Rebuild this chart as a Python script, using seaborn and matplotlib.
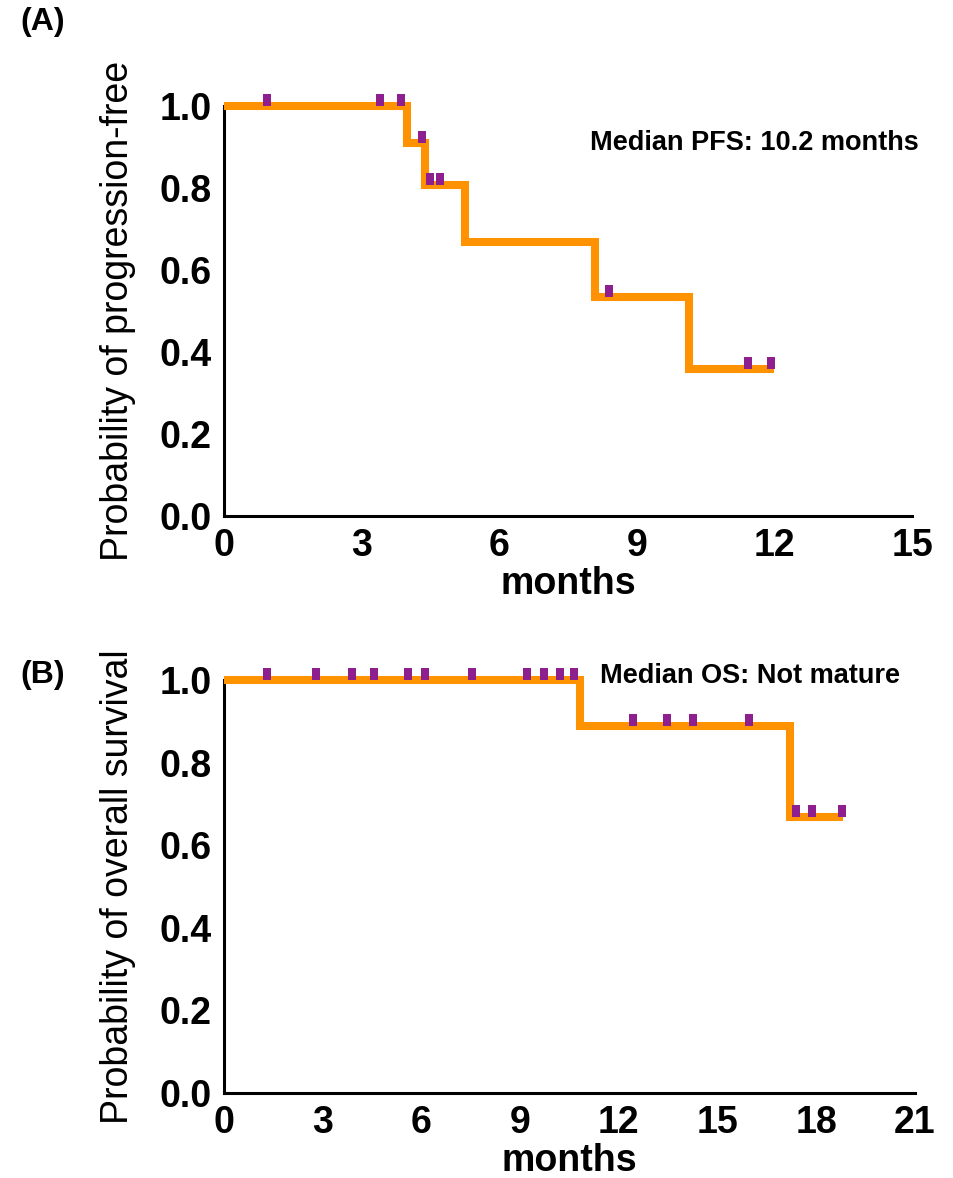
import matplotlib
matplotlib.use("Agg")
import matplotlib.pyplot as plt
import numpy as np
import pandas as pd
import seaborn as sns
from matplotlib.path import Path

# Panel A: progression-free survival (step points)
pfs_time = [0.0, 4.0, 4.38, 5.25, 8.08, 10.13, 12.0]
pfs_surv = [1.0, 0.909, 0.807, 0.669, 0.535, 0.358, 0.358]
pfs_censor = [0.93, 3.40, 3.85, 4.32, 4.49, 4.72, 8.39, 11.42, 11.92]

# Panel B: overall survival (step points)
os_time = [0.0, 10.82, 17.2, 18.8]
os_surv = [1.0, 0.889, 0.669, 0.669]
os_censor = [1.30, 2.79, 3.90, 4.57, 5.58, 6.11, 7.53, 9.22, 9.73, 10.21,
             10.64, 12.44, 13.46, 14.25, 15.97, 17.37, 17.88, 18.77]

LINE_COLOR = "#FF9200"
MARK_COLOR = "#8E1F8E"
FONT = ["Liberation Sans", "DejaVu Sans"]

sns.set_theme(style="white")
plt.rcParams["font.family"] = FONT
plt.rcParams["text.color"] = "black"
plt.rcParams["axes.labelcolor"] = "black"
plt.rcParams["xtick.color"] = "black"
plt.rcParams["ytick.color"] = "black"

# tick mark sitting on top of the curve
CENSOR_MARK = Path([(-0.3, 0), (0.3, 0), (0.3, 1), (-0.3, 1), (-0.3, 0)],
                   [Path.MOVETO, Path.LINETO, Path.LINETO, Path.LINETO, Path.CLOSEPOLY])


def step_value(times, surv, t):
    idx = np.searchsorted(np.asarray(times), t, side="right") - 1
    return np.asarray(surv)[idx]


def km_panel(ax, times, surv, censor, xmax, ylabel, note, note_xy):
    steps = pd.DataFrame({"t": times, "s": surv})
    sns.lineplot(data=steps, x="t", y="s", ax=ax, drawstyle="steps-post",
                 estimator=None, color=LINE_COLOR, linewidth=5.8,
                 solid_joinstyle="miter", solid_capstyle="butt",
                 clip_on=False, zorder=3)
    marks = pd.DataFrame({"t": censor, "s": step_value(times, surv, censor)})
    sns.scatterplot(data=marks, x="t", y="s", ax=ax, marker=CENSOR_MARK,
                    s=300, color=MARK_COLOR, linewidth=0, clip_on=False, zorder=4)

    ax.set_xlim(0, xmax)
    ax.set_ylim(0, 1)
    ax.set_xticks(np.arange(0, xmax + 1, 3))
    ax.set_yticks(np.arange(0, 1.01, 0.2))
    ax.set_yticklabels([f"{v:.1f}" for v in np.arange(0, 1.01, 0.2)])
    sns.despine(ax=ax)
    for side in ("left", "bottom"):
        ax.spines[side].set_linewidth(2.2)
        ax.spines[side].set_color("black")
    ax.tick_params(axis="both", direction="out", length=7, width=2.2,
                   color="black", labelcolor="black", labelsize=27, pad=2)
    for lab in ax.get_xticklabels() + ax.get_yticklabels():
        lab.set_fontweight("bold")
    ax.set_xlabel("months", fontsize=27, fontweight="bold", labelpad=1)
    ax.set_ylabel(ylabel, fontsize=27, labelpad=17)
    ax.text(note_xy[0], note_xy[1], note, fontsize=19.5, fontweight="bold",
            ha="left", va="center")


fig = plt.figure(figsize=(9.54, 11.78), dpi=100)
ax_a = fig.add_axes([0.2348, 0.5620, 0.7212, 0.3480])
ax_b = fig.add_axes([0.2348, 0.0722, 0.7243, 0.3506])

km_panel(ax_a, pfs_time, pfs_surv, pfs_censor, 15,
         "Probability of progression-free", "Median PFS: 10.2 months", (7.97, 0.91))
km_panel(ax_b, os_time, os_surv, os_censor, 21,
         "Probability of overall survival", "Median OS: Not mature", (11.43, 1.01))

fig.text(20 / 954, 1 - 22 / 1178, "(A)", fontsize=23, fontweight="bold", va="center")
fig.text(20 / 954, 1 - 675 / 1178, "(B)", fontsize=23, fontweight="bold", va="center")

fig.savefig("out.png", dpi=100)
plt.close(fig)
